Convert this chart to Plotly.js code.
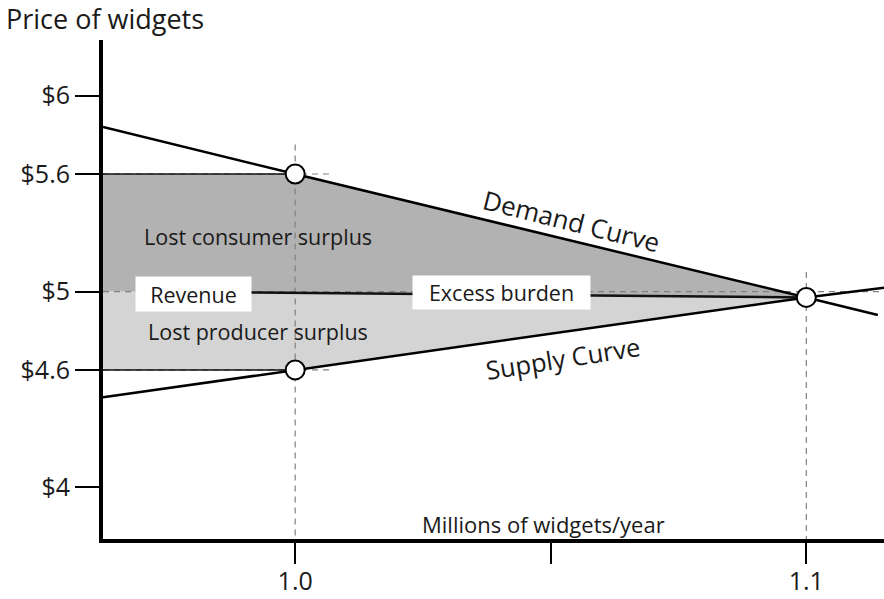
<!DOCTYPE html>
<html>
<head>
<meta charset="utf-8">
<script src="https://cdn.plot.ly/plotly-3.0.1.min.js"></script>
<style>html,body{margin:0;padding:0;background:#fff;}#chart{width:884px;height:599px;}</style>
</head>
<body>
<div id="chart"></div>
<script>
// ---- data ----
const xRange = [0.9624, 1.1152];
const yRange = [3.737, 6.284];
const demandQ = [0.9624, 1.0, 1.1, 1.114];
const demandP = [5.84, 5.6, 4.97, 4.88];
const supplyQ = [0.9624, 1.0, 1.1, 1.1152];
const supplyP = [4.46, 4.6, 4.97, 5.02];
const taxQ = 1.0;
const consumerPrice = 5.6;
const producerPrice = 4.6;
const basePrice = 5.0;
const eqQ = 1.1;
const eqP = 4.97;
const yTickVals = [4, 4.6, 5, 5.6, 6];
const yTickText = ['$4', '$4.6', '$5', '$5.6', '$6'];
const xTickVals = [1.0, 1.05, 1.1];
const xTickText = ['1.0', '', '1.1'];

const x0 = xRange[0], x1 = xRange[1];
const FONT = '"Open Sans", Lato, sans-serif';
const TXT = '#1a1a1a';
const guide = {color: '#808080', width: 1.2, dash: '6px,5px'};

const traces = [
  // shaded areas
  {x: [x0, taxQ, eqQ, x0, x0], y: [consumerPrice, consumerPrice, eqP, basePrice, consumerPrice],
   mode: 'lines', fill: 'toself', fillcolor: '#b2b2b2', line: {width: 0}, hoverinfo: 'skip'},
  {x: [x0, eqQ, taxQ, x0, x0], y: [basePrice, eqP, producerPrice, producerPrice, basePrice],
   mode: 'lines', fill: 'toself', fillcolor: '#d4d4d4', line: {width: 0}, hoverinfo: 'skip'},
  // dashed guides
  {x: [taxQ, taxQ], y: [5.75, yRange[0]], mode: 'lines', line: guide},
  {x: [eqQ, eqQ], y: [5.1, yRange[0]], mode: 'lines', line: guide},
  {x: [x0, taxQ + 0.007], y: [consumerPrice, consumerPrice], mode: 'lines', line: guide},
  {x: [x0, taxQ + 0.007], y: [producerPrice, producerPrice], mode: 'lines', line: guide},
  {x: [x0, x1], y: [basePrice, basePrice], mode: 'lines', line: guide},
  // solid lines
  {x: [x0, taxQ], y: [consumerPrice, consumerPrice], mode: 'lines', line: {color: '#111', width: 1.5}},
  {x: [x0, taxQ], y: [producerPrice, producerPrice], mode: 'lines', line: {color: '#111', width: 1.5}},
  {x: [x0 + 0.0065, eqQ], y: [basePrice, eqP], mode: 'lines', line: {color: '#111', width: 2.5}},
  {x: demandQ, y: demandP, mode: 'lines', line: {color: '#000', width: 2.5}},
  {x: supplyQ, y: supplyP, mode: 'lines', line: {color: '#000', width: 2.5}},
  // points
  {x: [taxQ, taxQ, eqQ], y: [consumerPrice, producerPrice, eqP], mode: 'markers',
   marker: {size: 19, color: '#fff', line: {color: '#000', width: 2}}, cliponaxis: false}
];

const ann = (x, y, text, size, extra) => Object.assign({x, y, xref: 'x', yref: 'y', text, showarrow: false,
  font: {family: FONT, size: size, color: TXT}}, extra || {});

const layout = {
  width: 884, height: 599,
  margin: {l: 103, r: 0, t: 40, b: 60},
  paper_bgcolor: '#fff', plot_bgcolor: '#fff',
  showlegend: false,
  title: {text: 'Price of widgets', x: 6 / 884, xref: 'container', xanchor: 'left',
          y: 1 - 20 / 599, yref: 'container', yanchor: 'middle',
          font: {family: FONT, size: 27, color: TXT}},
  xaxis: {range: xRange, showgrid: false, zeroline: false, showline: true, linewidth: 4, linecolor: '#000',
          ticks: 'outside', ticklen: 21, tickwidth: 2, tickcolor: '#000',
          tickmode: 'array', tickvals: xTickVals, ticktext: xTickText, ticklabelstandoff: -4,
          tickfont: {family: FONT, size: 25, color: TXT}, fixedrange: true},
  yaxis: {range: yRange, showgrid: false, zeroline: false, showline: true, linewidth: 4, linecolor: '#000',
          ticks: 'outside', ticklen: 24, tickwidth: 2, tickcolor: '#000',
          tickmode: 'array', tickvals: yTickVals, ticktext: yTickText,
          tickfont: {family: FONT, size: 25, color: TXT}, fixedrange: true},
  annotations: [
    ann(0.99275, 5.28, 'Lost consumer surplus', 21.5),
    ann(0.99265, 4.7965, 'Lost producer surplus', 21.5),
    ann(0.9801, 4.99, 'Revenue', 21.5, {bgcolor: '#fff', width: 113, height: 32}),
    ann(1.04037, 4.9977, 'Excess burden', 21.5, {bgcolor: '#fff', width: 175, height: 31}),
    ann(1.05413, 5.362, 'Demand Curve', 26, {textangle: 14}),
    ann(1.05237, 4.659, 'Supply Curve', 25.5, {textangle: -9}),
    ann(1.04866, 3.816, 'Millions of widgets/year', 22)
  ]
};

Plotly.newPlot('chart', traces, layout, {displayModeBar: false, staticPlot: true});
</script>
</body>
</html>
